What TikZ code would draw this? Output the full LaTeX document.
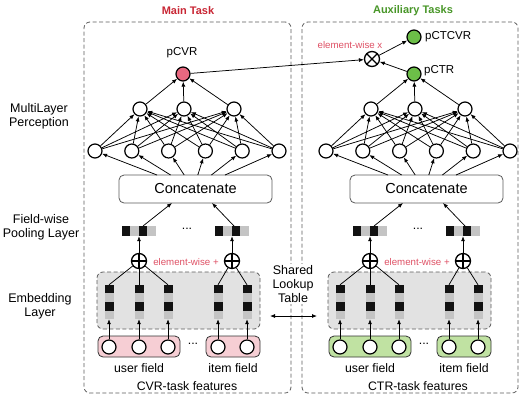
\documentclass[tikz,border=0pt]{standalone}
\usepackage{fontspec}
\setmainfont{Liberation Sans}
\usetikzlibrary{arrows.meta}
\definecolor{redn}{RGB}{232,104,128}
\definecolor{greenn}{RGB}{108,190,72}
\definecolor{pinkf}{RGB}{246,206,212}
\definecolor{greenf}{RGB}{192,226,162}
\definecolor{embf}{RGB}{226,226,226}
\definecolor{cellg}{RGB}{196,196,196}
\definecolor{cellk}{RGB}{18,18,18}
\definecolor{titr}{RGB}{200,38,52}
\definecolor{titg}{RGB}{72,150,40}
\definecolor{ewc}{RGB}{222,80,100}
\definecolor{boxc}{RGB}{90,90,90}
\newcommand\hcells[2]{%
  \fill[cellg] (#1-17,#2-5) rectangle (#1+17,#2+5);
  \fill[cellk] (#1-17,#2-5) rectangle (#1-9,#2+5);
  \fill[cellk] (#1,#2-5) rectangle (#1+8,#2+5);}
\newcommand\vcells[1]{%
  \fill[cellg] (#1-4.5,285) rectangle (#1+4.5,319);
  \fill[cellk] (#1-4.5,285) rectangle (#1+4.5,293);
  \fill[cellk] (#1-4.5,302) rectangle (#1+4.5,310.5);}
\tikzset{
  neuron/.style={circle, draw, line width=1.2pt, fill=white, minimum size=14pt, inner sep=0pt},
  arr/.style={-{Latex[length=5pt,width=4pt]}, line width=0.75pt},
  conn/.style={line width=0.75pt},
  concat/.style={draw=boxc, rounded corners=5pt, line width=0.8pt, minimum width=153pt, minimum height=28pt, inner sep=0pt, font=\fontsize{14.5}{16}\selectfont},
  oplus/.style={circle, draw, line width=1.3pt, fill=white, minimum size=15pt, inner sep=0pt,
    path picture={\draw[line width=1.3pt] (path picture bounding box.north) -- (path picture bounding box.south) (path picture bounding box.west) -- (path picture bounding box.east);}},
  otimes/.style={circle, draw, line width=1.3pt, fill=white, minimum size=15pt, inner sep=0pt,
    path picture={\draw[line width=1.3pt] (path picture bounding box.north west) -- (path picture bounding box.south east) (path picture bounding box.south west) -- (path picture bounding box.north east);}},
  vecnode/.style={inner sep=0pt, draw=none},
  taskbox/.style={draw=boxc, dash pattern=on 4pt off 2.5pt, rounded corners=6pt, line width=0.8pt, inner sep=0pt},
  embbox/.style={draw=boxc, fill=embf, dash pattern=on 4pt off 2.5pt, rounded corners=6pt, line width=0.8pt, inner sep=0pt, minimum width=163pt, minimum height=57pt},
  fieldbox/.style={draw=black!80, rounded corners=5pt, line width=0.8pt, inner sep=0pt, minimum height=21pt},
  lab/.style={inner sep=0pt, font=\fontsize{12.3}{14}\selectfont},
  side/.style={inner sep=0pt, align=center, font=\fontsize{12.5}{14}\selectfont},
  outlab/.style={inner sep=0pt, font=\fontsize{11.5}{13}\selectfont},
  ewlab/.style={inner sep=0pt, text=ewc, font=\fontsize{9.7}{11}\selectfont},
  title/.style={inner sep=0pt, font=\bfseries\fontsize{11}{13}\selectfont},
}
\begin{document}
\begin{tikzpicture}[x=1pt,y=-1pt]
\useasboundingbox (0,0) rectangle (524,400);
% task boxes
\node[taskbox, minimum width=207pt, minimum height=371pt] (Lbox) at (187.5,207.5) {};
\node[taskbox, minimum width=216pt, minimum height=371pt] (Rbox) at (410,207.5) {};
\node[title, text=titr] (tmain) at (188,11) {Main Task};
\node[title, text=titg] (taux) at (413,11) {Auxiliary Tasks};
% side labels
\node[side] (smlp) at (39,116) {MultiLayer\\Perception};
\node[side] (spool) at (41,227) {Field-wise\\Pooling Layer};
\node[side] (semb) at (40,306) {Embedding\\Layer};
\foreach \p/\s/\ff/\of/\tn in {L/0/pinkf/redn/CVR, R/231/greenf/greenn/CTR}{
\begin{scope}[xshift=\s pt]
  % MLP
  \foreach \i in {0,...,5} \node[neuron] (\p h1\i) at ({95+36.8*\i},151) {};
  \foreach \i/\x in {0/140,1/184,2/234} \node[neuron] (\p h2\i) at (\x,109) {};
  \node[neuron, fill=\of] (\p out) at (183,74) {};
  \foreach \i in {0,...,5} \foreach \j in {0,1,2} \draw[arr] (\p h1\i) -- (\p h2\j);
  \foreach \j in {0,1,2} \draw[arr] (\p h2\j) -- (\p out);
  \node[concat] (\p cat) at (195.5,189) {Concatenate};
  \foreach \i in {0,...,5} {
    \coordinate (\p cs\i) at ({157+13.6*\i},175);
    \draw[arr] (\p cs\i) -- (\p h1\i);
  }
  % pooled vectors
  \node[vecnode, minimum width=34pt, minimum height=10pt] (\p pv1) at (139,231) {};
  \node[vecnode, minimum width=34pt, minimum height=10pt] (\p pv2) at (232,231) {};
  \hcells{139}{231}
  \hcells{232}{231}
  \node[lab] (\p dots1) at (187,229) {...};
  \coordinate (\p pa1) at (143,226);
  \coordinate (\p pa2) at (234,226);
  \coordinate (\p ca1) at (172,203);
  \coordinate (\p ca2) at (212,203);
  \draw[arr] (\p pa1) -- (\p ca1);
  \draw[arr] (\p pa2) -- (\p ca2);
  % element-wise +
  \node[oplus] (\p op1) at (139,261) {};
  \node[oplus] (\p op2) at (232,261) {};
  \draw[arr] (\p op1) -- (\p pv1);
  \draw[arr] (\p op2) -- (\p pv2);
  \node[ewlab] (\p ew) at (186,262) {element-wise +};
  % embedding
  \node[embbox] (\p emb) at (178.5,300.5) {};
  \foreach \i/\x in {1/109,2/139,3/168,4/218,5/247} {
    \node[vecnode, minimum width=9pt, minimum height=34pt] (\p ev\i) at (\x,302) {};
    \vcells{\x}
  }
  \foreach \i in {1,2,3} \draw[conn] (\p ev\i.north) -- (\p op1);
  \foreach \i in {4,5} \draw[conn] (\p ev\i.north) -- (\p op2);
  % fields
  \node[fieldbox, fill=\ff, minimum width=82pt] (\p uf) at (139,346.5) {};
  \node[fieldbox, fill=\ff, minimum width=54pt] (\p if) at (233,346.5) {};
  \foreach \i/\x in {1/109,2/139,3/168,4/218,5/247} {
    \node[neuron] (\p in\i) at (\x,347) {};
    \draw[arr] (\p in\i) -- (\p ev\i);
  }
  \node[lab] (\p dots2) at (193,344) {...};
  \node[lab] (\p ufl) at (139,368) {user field};
  \node[lab] (\p ifl) at (233,368) {item field};
  \node[lab] (\p feat) at (187,386) {\tn-task features};
\end{scope}
}
% outputs
\node[outlab] (lcvr) at (182,53) {pCVR};
\node[outlab, anchor=west] (lctr) at (424,71) {pCTR};
\node[neuron, fill=greenn] (ctcvr) at (414,37) {};
\node[outlab, anchor=west] (lctcvr) at (425,37) {pCTCVR};
\node[otimes] (mul) at (372,59) {};
\node[ewlab] (ewx) at (350,45) {element-wise x};
\draw[arr] (Lout) -- (mul);
\draw[arr] (Rout) -- (mul);
\draw[arr] (mul) -- (ctcvr);
% shared lookup table
\node[side, fill=white, inner sep=1pt] (slt) at (293,284) {Shared\\Lookup\\Table};
\coordinate (sa) at (270,316);
\coordinate (sb) at (317,316);
\draw[{Latex[length=5pt,width=4pt]}-{Latex[length=5pt,width=4pt]}, line width=0.8pt] (sa) -- (sb);
\end{tikzpicture}
\end{document}
